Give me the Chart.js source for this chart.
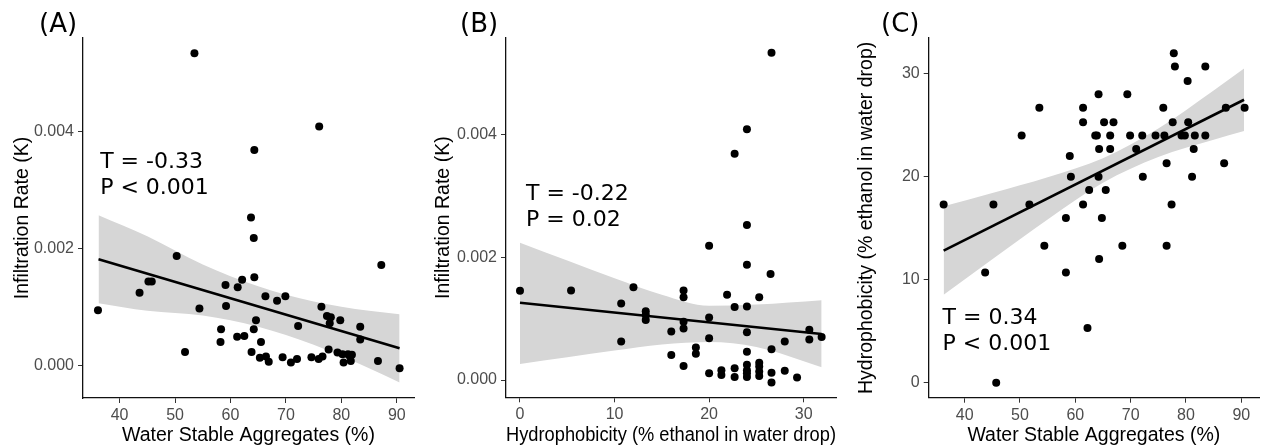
<!DOCTYPE html>
<html>
<head>
<meta charset="utf-8">
<script src="https://cdn.jsdelivr.net/npm/chart.js@4.4.0/dist/chart.umd.min.js"></script>
<style>
body { margin:0; background:#fff; }
#wrap { position:relative; width:1263px; height:448px; overflow:hidden; }
canvas { position:absolute; top:0; }
</style>
</head>
<body>
<div id="wrap">
<canvas id="panelA" width="421" height="448" style="left:0px"></canvas>
<canvas id="panelB" width="450" height="448" style="left:421px"></canvas>
<canvas id="panelC" width="421" height="448" style="left:842px"></canvas>
</div>
<script>
// (A) infiltration rate vs water stable aggregates
var wsaA = [53.5,76.0,64.3,63.7,64.2,50.3,87.2,36.1,43.6,45.2,45.8,54.4,59.1,59.2,61.3,62.1,64.3,66.3,68.4,69.9,76.4,77.4,78.1,77.9,79.8,83.4,83.4,72.2,64.6,64.2,58.3,58.2,61.2,62.5,65.5,51.8,63.8,65.3,66.4,66.9,69.4,70.9,72.0,74.6,75.9,76.6,77.7,79.3,80.2,81.2,80.4,81.5,81.7,86.6,90.5,81.9];
var kA = [0.00533,0.00408,0.00368,0.00253,0.00218,0.001875,0.00172,0.00095,0.00125,0.00144,0.00144,0.00098,0.00138,0.00102,0.00134,0.00147,0.00151,0.00119,0.00111,0.00119,0.00101,0.00085,0.00083,0.00073,0.00078,0.00067,0.00045,0.00068,0.00078,0.000625,0.000625,0.00041,0.00050,0.00051,0.00041,0.00024,0.00024,0.00014,0.00016,0.00007,0.00015,0.00006,0.00012,0.00015,0.00012,0.00016,0.00028,0.00023,0.00020,0.00020,0.00006,0.00017,0.000085,0.000085,-0.00004,0.00019];
var fitXA = [36.2, 90.5];
var fitYA = [0.00182, 0.00030];
var bandXA = [36.2, 45, 55, 65, 75, 85, 90.5];
var bandUpA = [0.00257, 0.00221, 0.00173, 0.00136, 0.00110, 0.00094, 0.00088];
var bandLoA = [0.00107, 0.00094, 0.00086, 0.00067, 0.00036, -0.00004, -0.00028];

// (B) infiltration rate vs hydrophobicity
var hB = [26.6,24.0,22.7,24.0,20.0,24.0,26.5,0,5.4,12.0,10.7,10.7,13.3,13.3,13.3,17.3,17.3,17.3,17.3,16.0,16.0,17.3,18.6,18.6,20.0,20.0,20.0,21.9,22.7,24.0,25.3,24.0,24.0,21.3,21.3,22.7,22.7,24.0,24.0,24.0,24.0,25.3,25.3,25.3,25.3,26.6,26.6,26.6,28.0,28.0,29.3,30.6,30.6,31.9];
var kB = [0.00534,0.00409,0.00369,0.00253,0.00219,0.00188,0.00173,0.001455,0.00146,0.001515,0.00125,0.00063,0.00112,0.00106,0.00098,0.00146,0.00135,0.00095,0.00084,0.00079,0.00041,0.00023,0.00053,0.00043,0.00102,0.00068,0.00011,0.00139,0.00119,0.00120,0.00135,0.00078,0.00046,0.00016,0.00008,0.00019,0.00005,0.00025,0.00016,0.00011,0.00005,0.00028,0.00022,0.00014,0.000065,0.00050,0.00012,-0.00004,0.00063,0.00015,0.00004,0.00082,0.00066,0.00070];
var fitXB = [0, 31.9];
var fitYB = [0.00126, 0.00075];
var bandXB = [0, 5, 10, 15, 20, 25, 31.9];
var bandUpB = [0.00224, 0.00195, 0.00166, 0.00139, 0.00121, 0.00123, 0.00130];
var bandLoB = [0.00026, 0.00037, 0.00048, 0.00058, 0.00062, 0.00054, 0.00021];

// (C) hydrophobicity vs water stable aggregates
var wsaC = [36.2,43.7,45.2,45.7,50.3,51.7,53.5,54.4,58.3,58.3,59.0,59.2,61.4,61.4,61.4,62.2,62.5,63.6,63.9,64.2,64.3,64.2,64.3,64.8,65.2,65.5,66.3,66.3,66.9,68.5,69.4,69.9,71.0,72.1,72.2,74.5,75.9,76.1,76.5,76.5,77.4,77.6,77.8,78.0,79.2,79.8,80.3,80.4,81.1,81.4,81.6,83.5,83.5,86.9,87.2,90.6];
var hC = [17.3,10.7,17.3,0,24.0,17.3,26.7,13.3,16.0,10.7,22.0,20.0,26.7,25.3,17.3,5.3,18.7,24.0,24.0,28.0,22.7,20.0,12.0,16.0,25.3,18.7,24.0,22.7,25.3,13.3,28.0,24.0,22.7,24.0,20.0,24.0,26.7,24.0,21.3,13.3,17.3,25.3,32.0,30.7,24.0,24.0,29.3,25.3,20.0,22.7,24.0,30.7,24.0,21.3,26.7,26.7];
var fitXC = [36.2, 90.5];
var fitYC = [12.83, 27.47];
var bandXC = [36.2, 45, 55, 65, 75, 85, 90.5];
var bandUpC = [17.13, 18.42, 19.95, 21.79, 24.67, 28.37, 30.51];
var bandLoC = [8.53, 11.98, 15.85, 19.41, 21.91, 23.59, 24.43];

// tick labels
var wsaTicks = [40, 50, 60, 70, 80, 90];
var hTicks = [0, 10, 20, 30];
var kTicks = [0, 0.002, 0.004];

var TICK_FONT = { family: '"Liberation Sans", Arial, sans-serif', size: 16 };
var TITLE_FONT = { family: '"Liberation Sans", Arial, sans-serif', size: 19.5 };

function pts(xs, ys) {
  return xs.map(function(x, i){ return { x: x, y: ys[i] }; });
}

// panel tag and the T / P text
var panelText = {
  id: 'panelText',
  afterDraw: function(chart, args, o) {
    var ctx = chart.ctx;
    ctx.save();
    ctx.fillStyle = '#000';
    ctx.textAlign = 'left';
    ctx.textBaseline = 'alphabetic';
    ctx.font = '26px "DejaVu Sans"';
    ctx.fillText(o.tag, 39, 32);
    ctx.font = '22px "DejaVu Sans"';
    var x = chart.scales.x.getPixelForValue(o.statX);
    var y = chart.scales.y.getPixelForValue(o.statY);
    o.stats.forEach(function(s, i){ ctx.fillText(s, x, y + i * 26); });
    ctx.restore();
  }
};

function axis(cfg, horiz) {
  return {
    type: 'linear',
    min: cfg.min,
    max: cfg.max,
    afterBuildTicks: function(s){ s.ticks = cfg.ticks.map(function(v){ return { value: v }; }); },
    afterFit: function(s){ if (horiz) s.height = cfg.size; else s.width = cfg.size; },
    ticks: {
      font: TICK_FONT, color: '#4d4d4d', padding: horiz ? 3 : 4, maxRotation: 0,
      callback: function(v){ return cfg.fmt ? v.toFixed(cfg.fmt) : String(v); }
    },
    grid: { display: true, drawOnChartArea: false, drawTicks: true, tickLength: 5, color: '#333', lineWidth: 1 },
    border: { display: true, color: '#111', width: 1.3 },
    title: {
      display: true, text: cfg.title, font: TITLE_FONT, color: '#000',
      padding: horiz ? { top: 0, bottom: 1 } : { top: cfg.titlePad, bottom: 0 }
    }
  };
}

function createPanel(canvasId, p) {
  var ctx = document.getElementById(canvasId).getContext('2d');
  new Chart(ctx, {
    type: 'scatter',
    data: {
      datasets: [
        { data: pts(p.x, p.y), backgroundColor: '#000', borderWidth: 0, pointRadius: 4, pointHoverRadius: 4 },
        { type: 'line', data: pts(p.fitX, p.fitY), borderColor: '#000', borderWidth: 2.6, pointRadius: 0, fill: false },
        { type: 'line', data: pts(p.bandX, p.bandUp), borderWidth: 0, borderColor: 'rgba(0,0,0,0)', pointRadius: 0,
          backgroundColor: '#d6d6d6', fill: '+1', cubicInterpolationMode: 'monotone' },
        { type: 'line', data: pts(p.bandX, p.bandLo), borderWidth: 0, borderColor: 'rgba(0,0,0,0)', pointRadius: 0,
          fill: false, cubicInterpolationMode: 'monotone' }
      ]
    },
    options: {
      responsive: false,
      animation: false,
      devicePixelRatio: 1,
      layout: { padding: { top: 38, right: p.padRight, left: 0, bottom: 0 } },
      plugins: {
        legend: { display: false },
        tooltip: { enabled: false },
        panelText: { tag: p.tag, stats: p.stats, statX: p.statX, statY: p.statY }
      },
      scales: {
        x: axis(p.xAxis, true),
        y: axis(p.yAxis, false)
      }
    },
    plugins: [panelText]
  });
}

createPanel('panelA', {
  tag: '(A)', stats: ['T = -0.33', 'P < 0.001'], statX: 36.5, statY: 0.003376,
  x: wsaA, y: kA, fitX: fitXA, fitY: fitYA, bandX: bandXA, bandUp: bandUpA, bandLo: bandLoA,
  padRight: 7,
  xAxis: { min: 33.4, max: 93.1, ticks: wsaTicks, size: 50, title: 'Water Stable Aggregates (%)' },
  yAxis: { min: -0.000546, max: 0.00559, ticks: kTicks, fmt: 3, size: 83, titlePad: 11, title: 'Infiltration Rate (K)' }
});

createPanel('panelB', {
  tag: '(B)', stats: ['T = -0.22', 'P = 0.02'], statX: 0.63, statY: 0.00294,
  x: hB, y: kB, fitX: fitXB, fitY: fitYB, bandX: bandXB, bandUp: bandUpB, bandLo: bandLoB,
  padRight: 35,
  xAxis: { min: -1.48, max: 33.42, ticks: hTicks, size: 50.7, title: 'Hydrophobicity (% ethanol in water drop)' },
  yAxis: { min: -0.000282, max: 0.005579, ticks: kTicks, fmt: 3, size: 85, titlePad: 11, title: 'Infiltration Rate (K)' }
});

createPanel('panelC', {
  tag: '(C)', stats: ['T = 0.34', 'P < 0.001'], statX: 36.0, statY: 5.68,
  x: wsaC, y: hC, fitX: fitXC, fitY: fitYC, bandX: bandXC, bandUp: bandUpC, bandLo: bandLoC,
  padRight: 3,
  xAxis: { min: 33.5, max: 93.2, ticks: wsaTicks, size: 50.3, title: 'Water Stable Aggregates (%)' },
  yAxis: { min: -1.46, max: 33.47, ticks: hTicks, size: 86.7, titlePad: 12.5, title: 'Hydrophobicity (% ethanol in water drop)' }
});
</script>
</body>
</html>
